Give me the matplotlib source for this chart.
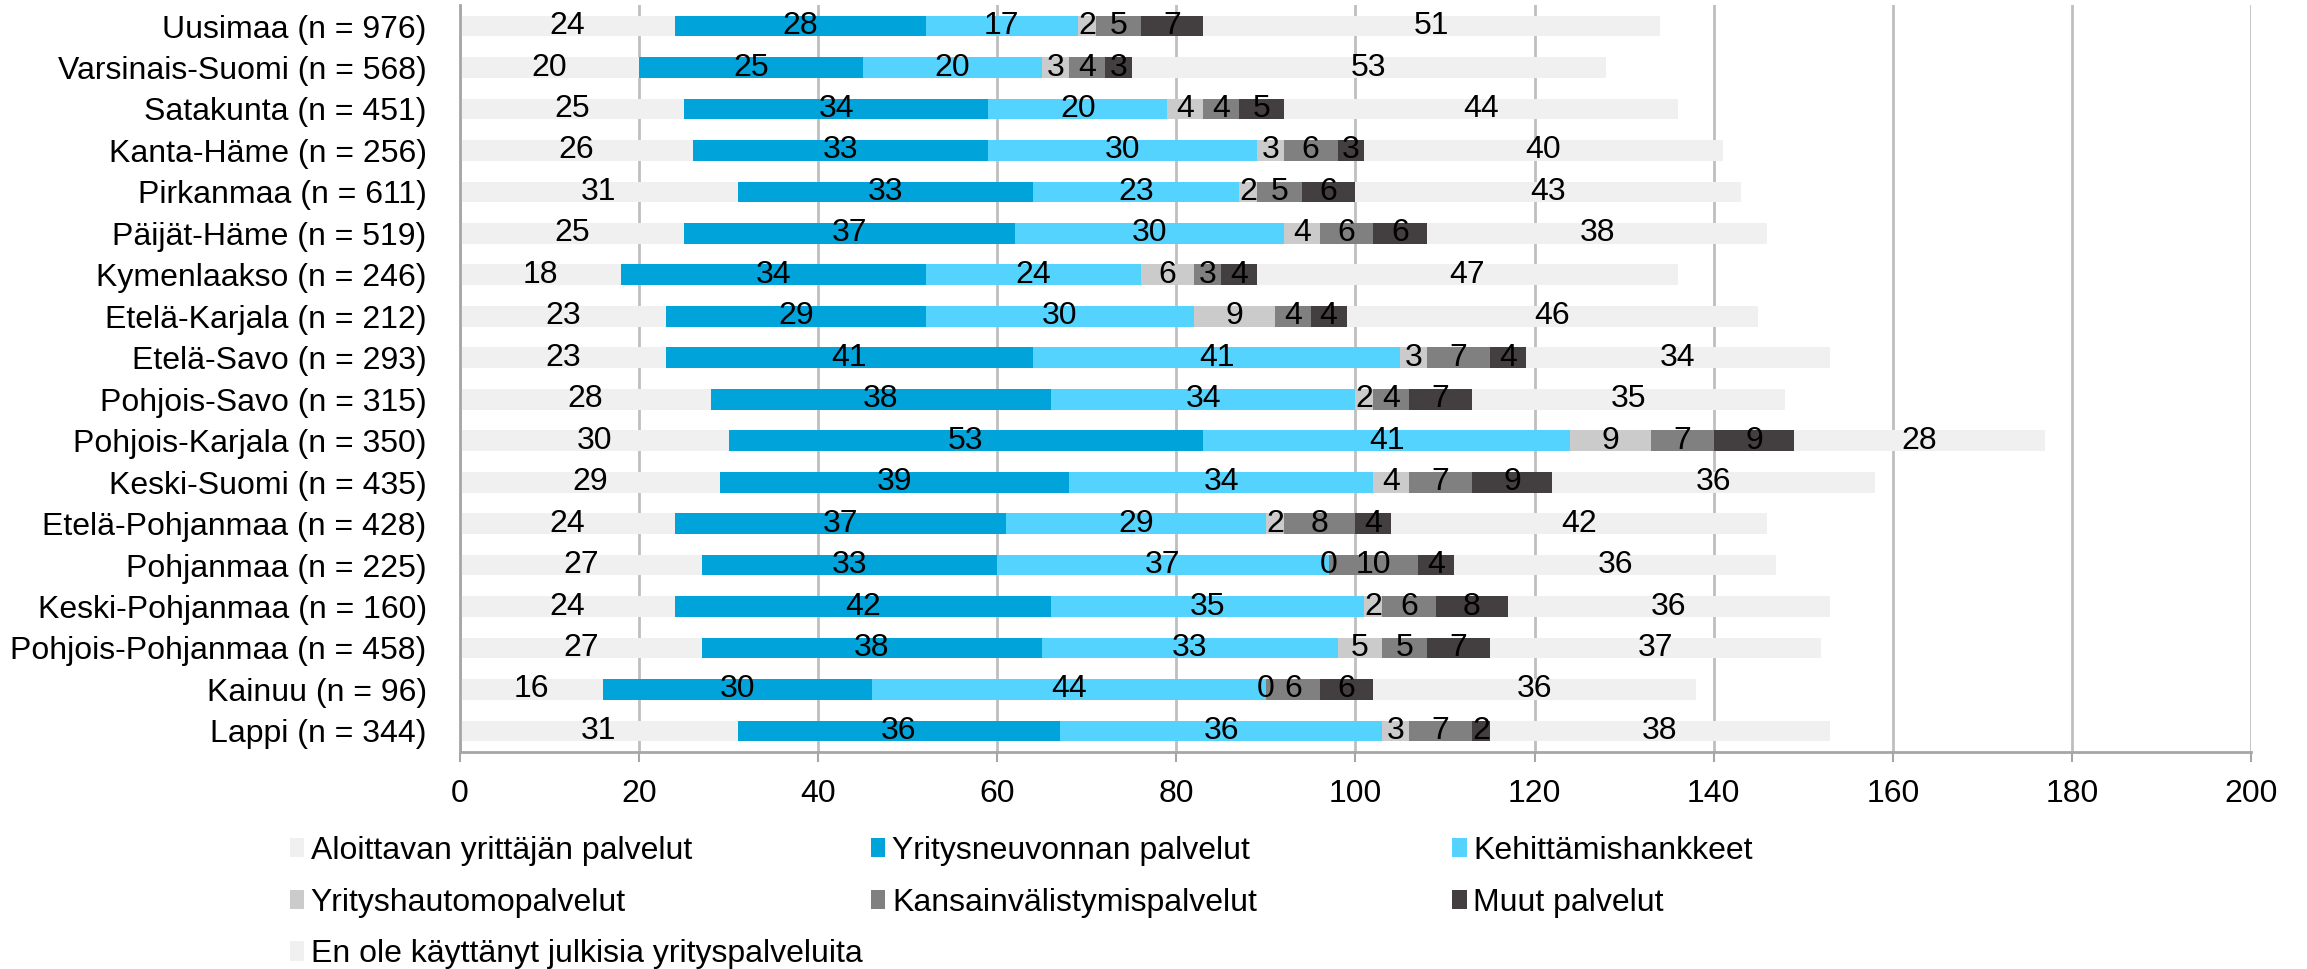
import numpy as np
import matplotlib
matplotlib.use("Agg")
import matplotlib.pyplot as plt
from matplotlib.patches import Patch

plt.rcParams["font.family"] = ["Liberation Sans", "DejaVu Sans"]

# regions, top to bottom
regions = ["Uusimaa (n = 976)", "Varsinais-Suomi (n = 568)", "Satakunta (n = 451)",
           "Kanta-Häme (n = 256)", "Pirkanmaa (n = 611)", "Päijät-Häme (n = 519)",
           "Kymenlaakso (n = 246)", "Etelä-Karjala (n = 212)", "Etelä-Savo (n = 293)",
           "Pohjois-Savo (n = 315)", "Pohjois-Karjala (n = 350)", "Keski-Suomi (n = 435)",
           "Etelä-Pohjanmaa (n = 428)", "Pohjanmaa (n = 225)", "Keski-Pohjanmaa (n = 160)",
           "Pohjois-Pohjanmaa (n = 458)", "Kainuu (n = 96)", "Lappi (n = 344)"]

aloittavan = [24, 20, 25, 26, 31, 25, 18, 23, 23, 28, 30, 29, 24, 27, 24, 27, 16, 31]
neuvonta = [28, 25, 34, 33, 33, 37, 34, 29, 41, 38, 53, 39, 37, 33, 42, 38, 30, 36]
kehittamis = [17, 20, 20, 30, 23, 30, 24, 30, 41, 34, 41, 34, 29, 37, 35, 33, 44, 36]
hautomo = [2, 3, 4, 3, 2, 4, 6, 9, 3, 2, 9, 4, 2, 0, 2, 5, 0, 3]
kansainv = [5, 4, 4, 6, 5, 6, 3, 4, 7, 4, 7, 7, 8, 10, 6, 5, 6, 7]
muut = [7, 3, 5, 3, 6, 6, 4, 4, 4, 7, 9, 9, 4, 4, 8, 7, 6, 2]
en_ole = [51, 53, 44, 40, 43, 38, 47, 46, 34, 35, 28, 36, 42, 36, 36, 37, 36, 38]

series_names = ["Aloittavan yrittäjän palvelut", "Yritysneuvonnan palvelut", "Kehittämishankkeet",
                "Yrityshautomopalvelut", "Kansainvälistymispalvelut", "Muut palvelut",
                "En ole käyttänyt julkisia yrityspalveluita"]
series = [aloittavan, neuvonta, kehittamis, hautomo, kansainv, muut, en_ole]
colors = ["#F0F0F0", "#00A4DA", "#55D3FF", "#CBCBCB", "#808080", "#433F40", "#F0F0F0"]

fig = plt.figure(figsize=(23.07, 9.69), dpi=100)
ax = fig.add_axes([0.1994, 0.2243, 0.9757 - 0.1994, 0.9945 - 0.2243])

y = np.arange(len(regions))
left = np.zeros(len(regions))
handles = []
for name, vals, col in zip(series_names, series, colors):
    vals = np.array(vals, dtype=float)
    bars = ax.barh(y, vals, left=left, height=0.5, color=col, label=name, zorder=2)
    ax.bar_label(bars, labels=[f"{v:g}" for v in vals], label_type="center", fontsize=23, color="black")
    left += vals
    handles.append(Patch(facecolor=col, edgecolor="none"))

ax.set_xlim(0, 200)
ax.set_ylim(len(regions) - 0.5, -0.5)
ax.set_xticks(np.arange(0, 201, 20))
ax.set_yticks(y)
ax.set_yticklabels(regions)
ax.tick_params(axis="y", length=0, pad=24, labelsize=23)
ax.tick_params(axis="x", length=7, width=1.5, color="#A6A6A6", pad=13, labelsize=23)
ax.grid(axis="x", color="#BFBFBF", linewidth=2, zorder=0)
ax.set_axisbelow(True)
for s in ["top", "right"]:
    ax.spines[s].set_visible(False)
ax.spines["left"].set_color("#A6A6A6")
ax.spines["left"].set_linewidth(2)
ax.spines["bottom"].set_color("#A6A6A6")
ax.spines["bottom"].set_linewidth(2)

# legend laid out in three columns, row-major like the original
cols = [[0, 3, 6], [1, 4], [2, 5]]
col_x = [0.1257, 0.3776, 0.6295]
for idx, cx in zip(cols, col_x):
    fig.legend([handles[i] for i in idx], [series_names[i] for i in idx],
               loc="upper left", bbox_to_anchor=(cx, 0.1374), frameon=False,
               fontsize=23, handlelength=0.45, handleheight=0.55, handletextpad=0.2,
               labelspacing=0.68, borderpad=0, borderaxespad=0)

fig.savefig("out.png", dpi=100)
